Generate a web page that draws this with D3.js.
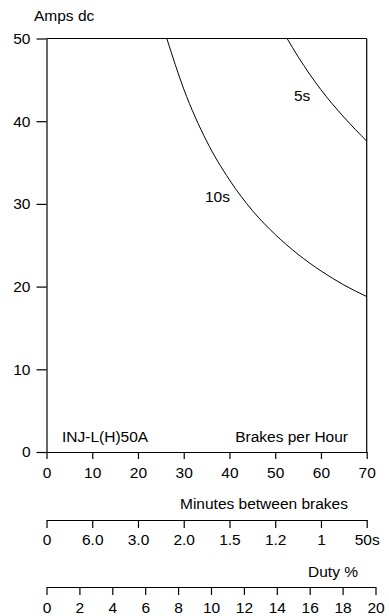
<!DOCTYPE html>
<html><head><meta charset="utf-8">
<script src="https://cdn.jsdelivr.net/npm/d3@7"></script>
<style>
body{margin:0;background:#fff}
svg{display:block}
text{font-family:"Liberation Sans",Arial,sans-serif;fill:#000}
</style></head><body>
<script>
const brakeTicks = [0,10,20,30,40,50,60,70];
const ampTicks = [0,10,20,30,40,50];
const minuteLabels = ["0","6.0","3.0","2.0","1.5","1.2","1","50s"];
const dutyTicks = [0,2,4,6,8,10,12,14,16,18,20];
const brakes10s = [26.3,30,35,40,45,50,55,60,65,70];
const amps10s   = [50,43.9,37.6,32.9,29.2,26.3,23.9,21.9,20.2,18.8];
const brakes5s  = [52.6,55,60,65,70];
const amps5s    = [50,47.8,43.8,40.5,37.6];

const W=389,H=616,FS="15.5px";
const svg=d3.select("body").append("svg").attr("width",W).attr("height",H);
const x=d3.scaleLinear().domain([0,70]).range([46.5,366.7]);
const y=d3.scaleLinear().domain([0,50]).range([452,38.5]);
const xd=d3.scaleLinear().domain([0,20]).range([46.5,375.5]);

function style(g){
  g.selectAll("path,line").attr("stroke","#000").attr("stroke-width",1.2);
  g.selectAll("text").style("font-size",FS).attr("fill","#000");
}
// y axis
const gy=svg.append("g").attr("transform",`translate(${x(0)},0)`)
  .call(d3.axisLeft(y).tickValues(ampTicks).tickSize(10).tickSizeOuter(0).tickPadding(6));
style(gy);
// x axis
const gx=svg.append("g").attr("transform",`translate(0,${y(0)})`)
  .call(d3.axisBottom(x).tickValues(brakeTicks).tickSize(7).tickSizeOuter(0).tickPadding(8));
style(gx);
// frame top and right
svg.append("line").attr("x1",x(0)).attr("x2",x(70)).attr("y1",y(50)).attr("y2",y(50)).attr("stroke","#000").attr("stroke-width",1.2);
svg.append("line").attr("x1",x(70)).attr("x2",x(70)).attr("y1",y(50)).attr("y2",y(0)).attr("stroke","#000").attr("stroke-width",1.2);

// curves
svg.append("clipPath").attr("id","c").append("rect").attr("x",x(0)).attr("y",y(50)).attr("width",x(70)-x(0)).attr("height",y(0)-y(50));
const line=d3.line().x(d=>x(d[0])).y(d=>y(d[1])).curve(d3.curveMonotoneX);
[[brakes10s,amps10s],[brakes5s,amps5s]].forEach(([b,a])=>{
  svg.append("path").attr("clip-path","url(#c)").attr("d",line(b.map((v,i)=>[v,a[i]])))
    .attr("fill","none").attr("stroke","#000").attr("stroke-width",1);
});
function txt(t,xx,yy,anchor){svg.append("text").attr("x",xx).attr("y",yy).attr("text-anchor",anchor||"start").style("font-size",FS).text(t);}
txt("Amps dc",34,21);
txt("INJ-L(H)50A",62,442);
txt("Brakes per Hour",348,442,"end");
txt("10s",205,202);
txt("5s",294,101);

// minutes axis
const gm=svg.append("g").attr("transform","translate(0,520)")
  .call(d3.axisBottom(x).tickValues(brakeTicks).tickSize(8).tickSizeOuter(0).tickPadding(6).tickFormat((d,i)=>minuteLabels[i]));
style(gm);
txt("Minutes between brakes",348,509,"end");
// duty axis
const gd=svg.append("g").attr("transform","translate(0,587)")
  .call(d3.axisBottom(xd).tickValues(dutyTicks).tickSize(8).tickSizeOuter(0).tickPadding(7));
style(gd);
txt("Duty %",358,577,"end");
</script></body></html>
